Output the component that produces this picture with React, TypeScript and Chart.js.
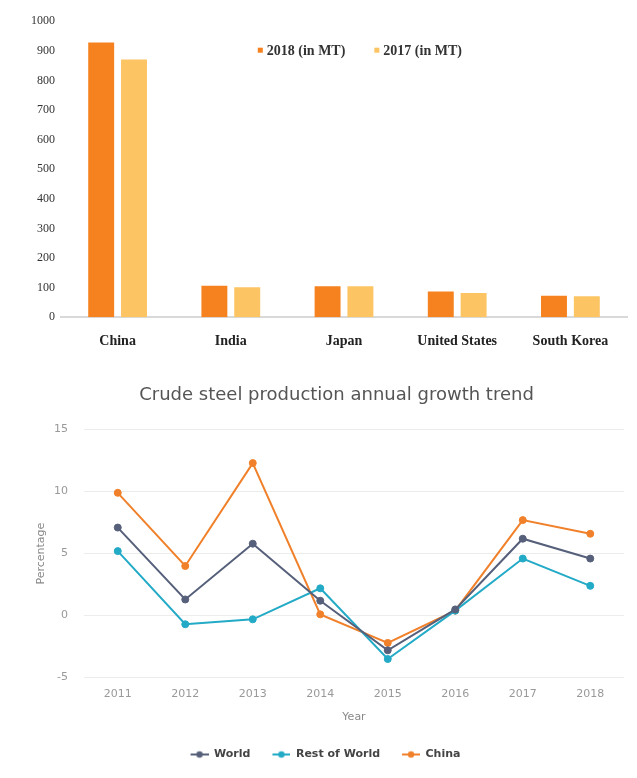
import React, { useEffect, useRef } from "react";
import { Chart, registerables } from "chart.js";

Chart.register(...registerables);

// ---- Bar chart data ----
const countries = ["China", "India", "Japan", "United States", "South Korea"];
const production2018 = [928.3, 106.5, 104.3, 86.7, 72.5];
const production2017 = [870.9, 101.5, 104.7, 81.6, 71.0];
const barSeriesLabels = ["2018 (in MT)", "2017 (in MT)"];

// ---- Line chart data ----
const years = ["2011", "2012", "2013", "2014", "2015", "2016", "2017", "2018"];
const worldGrowth = [7.1, 1.3, 5.8, 1.2, -2.8, 0.5, 6.2, 4.6];
const restOfWorldGrowth = [5.2, -0.7, -0.3, 2.2, -3.5, 0.4, 4.6, 2.4];
const chinaGrowth = [9.9, 4.0, 12.3, 0.1, -2.2, 0.4, 7.7, 6.6];
const lineSeriesLabels = ["World", "Rest of World", "China"];

const COLOR_2018 = "#f5821f";
const COLOR_2017 = "#fdc463";
const COLOR_WORLD = "#56607a";
const COLOR_ROW = "#22aac6";
const COLOR_CHINA = "#f0812a";

const SERIF = '"Liberation Serif", "Times New Roman", serif';
const SANS = '"DejaVu Sans", Verdana, sans-serif';

const barLegendPlugin = {
  id: "barLegend",
  afterDraw(chart: any) {
    const { ctx, chartArea } = chart;
    ctx.save();
    ctx.font = `bold 14px ${SERIF}`;
    ctx.textBaseline = "middle";
    const box = 5;
    const gap = 4;
    const spacing = 29;
    const items = chart.data.datasets.map((ds: any) => ({
      text: ds.label,
      color: ds.backgroundColor,
    }));
    const widths = items.map((it: any) => box + gap + ctx.measureText(it.text).width);
    const total = widths.reduce((a: number, b: number) => a + b, 0) + spacing * (items.length - 1);
    let x = chartArea.left + chartArea.width * 0.528 - total / 2;
    const y = chartArea.top + 29;
    items.forEach((it: any, i: number) => {
      ctx.fillStyle = it.color;
      ctx.fillRect(x, y - box / 2, box, box);
      ctx.fillStyle = "#333";
      ctx.fillText(it.text, x + box + gap, y + 1);
      x += widths[i] + spacing;
    });
    ctx.restore();
  },
};

// Nudges the title and legend blocks horizontally after layout.
const blockShiftPlugin = {
  id: "blockShift",
  afterLayout(chart: any) {
    const t = chart.titleBlock;
    if (t) {
      t.left += 5.5;
      t.right += 5.5;
    }
    const l = chart.legend;
    if (l) {
      l.left -= 11.5;
      l.right -= 11.5;
    }
  },
};

function makeMarker(color: string) {
  const c = document.createElement("canvas");
  c.width = 30;
  c.height = 10;
  const g = c.getContext("2d")!;
  g.strokeStyle = color;
  g.lineWidth = 2;
  g.beginPath();
  g.moveTo(12, 5);
  g.lineTo(30, 5);
  g.stroke();
  g.fillStyle = color;
  g.beginPath();
  g.arc(21, 5, 3.2, 0, Math.PI * 2);
  g.fill();
  return c;
}

function BarChart() {
  const ref = useRef<HTMLCanvasElement>(null);
  useEffect(() => {
    const chart = new Chart(ref.current!, {
      type: "bar",
      data: {
        labels: countries,
        datasets: [
          { label: barSeriesLabels[0], data: production2018, backgroundColor: COLOR_2018 },
          { label: barSeriesLabels[1], data: production2017, backgroundColor: COLOR_2017 },
        ],
      },
      options: {
        animation: false,
        responsive: false,
        layout: { padding: { left: 17, right: 2, top: 12, bottom: 6 } },
        datasets: { bar: { categoryPercentage: 0.58, barPercentage: 0.79 } } as any,
        plugins: {
          legend: { display: false },
          tooltip: { enabled: false },
        },
        scales: {
          x: {
            grid: { display: false, drawTicks: false },
            border: { display: true, color: "#d9d9d9", width: 2 },
            ticks: {
              font: { family: SERIF, size: 14, weight: "bold" },
              color: "#222",
              padding: 16,
            },
          },
          y: {
            min: 0,
            max: 1000,
            grid: { display: false, drawTicks: false },
            border: { display: false },
            ticks: {
              stepSize: 100,
              font: { family: SERIF, size: 12 },
              color: "#333",
              padding: 6,
              callback: (v: any) => String(v),
            },
          },
        },
      },
      plugins: [barLegendPlugin],
    });
    return () => chart.destroy();
  }, []);
  return <canvas ref={ref} width={621} height={364} style={{ display: "block" }} />;
}

function LineChart() {
  const ref = useRef<HTMLCanvasElement>(null);
  useEffect(() => {
    const colors = [COLOR_WORLD, COLOR_ROW, COLOR_CHINA];
    const markers = colors.map(makeMarker);
    const series = [worldGrowth, restOfWorldGrowth, chinaGrowth];
    const chart = new Chart(ref.current!, {
      type: "line",
      data: {
        labels: years,
        datasets: series.map((d, i) => ({
          label: lineSeriesLabels[i],
          data: d,
          borderColor: colors[i],
          backgroundColor: colors[i],
          borderWidth: 2,
          pointRadius: 3.5,
          pointBorderWidth: 1,
          pointBackgroundColor: colors[i],
          tension: 0,
        })),
      },
      options: {
        animation: false,
        responsive: false,
        layout: { padding: { left: 27, right: 2, top: 0, bottom: 4 } },
        plugins: {
          tooltip: { enabled: false },
          title: {
            display: true,
            text: "Crude steel production annual growth trend",
            font: { family: SANS, size: 18, weight: "normal" },
            color: "#555",
            padding: { top: 13, bottom: 23 },
          },
          legend: {
            position: "bottom",
            labels: {
              usePointStyle: true,
              pointStyleWidth: 30,
              font: { family: SANS, size: 11, weight: "bold" },
              color: "#444",
              padding: 10,
              generateLabels: (ch: any) => {
                const base = (Chart.defaults as any).plugins.legend.labels.generateLabels(ch);
                return base.map((it: any, i: number) => ({ ...it, pointStyle: markers[i] }));
              },
            },
          },
        },
        scales: {
          x: {
            offset: true,
            grid: { display: false, drawTicks: false },
            border: { display: false },
            ticks: { font: { family: SANS, size: 11 }, color: "#999", padding: 10 },
            title: {
              display: true,
              text: "Year",
              font: { family: SANS, size: 11 },
              color: "#888",
              padding: { top: 0, bottom: 15 },
            },
          },
          y: {
            min: -5,
            max: 15,
            grid: { color: "#ececec", drawTicks: false },
            border: { display: false },
            ticks: {
              stepSize: 5,
              font: { family: SANS, size: 11 },
              color: "#999",
              padding: 16,
            },
            title: {
              display: true,
              text: "Percentage",
              font: { family: SANS, size: 11 },
              color: "#888",
              padding: { top: 0, bottom: 0 },
            },
            afterFit: (scale: any) => {
              scale.width = 49;
            },
          },
        },
      },
      plugins: [blockShiftPlugin],
    });
    return () => chart.destroy();
  }, []);
  return <canvas ref={ref} width={621} height={402} style={{ display: "block" }} />;
}

export default function App() {
  return (
    <div style={{ width: 621, background: "#fff" }}>
      <BarChart />
      <LineChart />
    </div>
  );
}
